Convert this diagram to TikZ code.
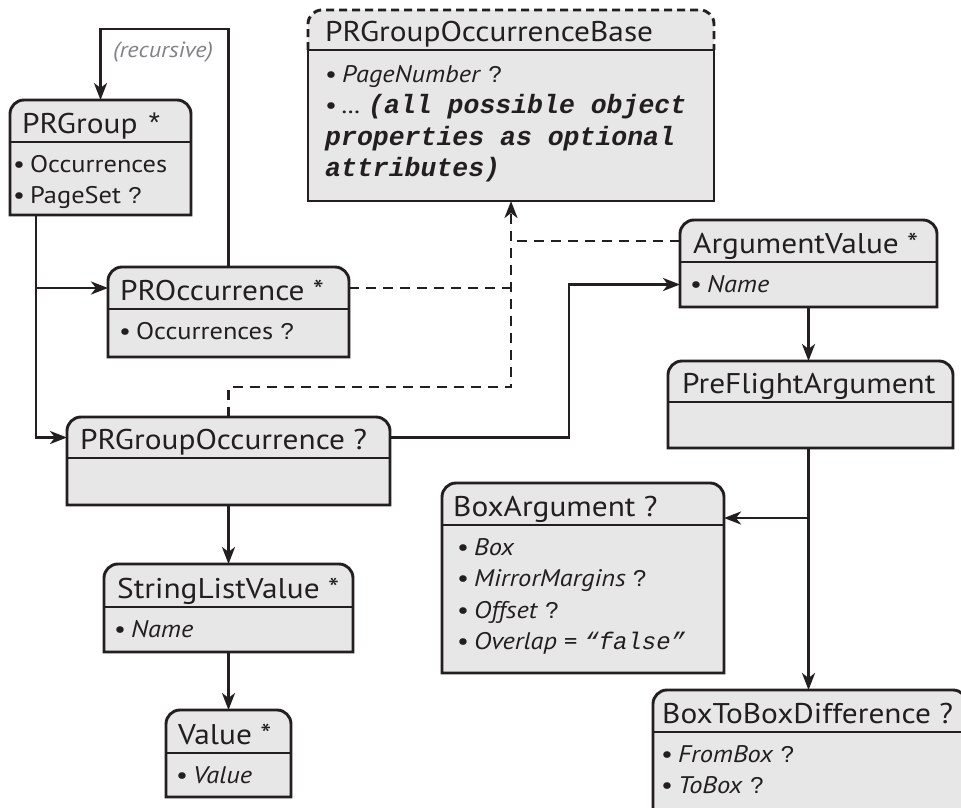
\documentclass[tikz,border=0pt]{standalone}
\usepackage{fontspec}
\setmainfont{PT Sans}[FakeStretch=1.1]
\newfontfamily\monofont{Liberation Mono}
\usetikzlibrary{arrows.meta,fit,calc}
\definecolor{boxgray}{HTML}{E6E7E6}
\definecolor{linecol}{HTML}{231F20}
\definecolor{recgray}{HTML}{808285}
\tikzset{
  boxline/.style={line width=2.9pt, draw=linecol, fill=boxgray},
  conn/.style={line width=2.7pt, draw=linecol},
  arr/.style={conn, -{Stealth[length=17pt,width=13pt,inset=5pt]}},
  dconn/.style={conn, dash pattern=on 10pt off 7pt},
  darr/.style={dconn, -{Stealth[length=17pt,width=13pt,inset=5pt]}},
  hdr/.style={inner sep=0pt, font=\fontsize{28.5}{32}\selectfont, text=linecol},
  bodytxt/.style={inner sep=0pt, font=\fontsize{24}{31.5}\selectfont, text=linecol},
  region/.style={inner sep=0pt, outer sep=0pt, draw=none, fill=none},
}
\newcommand\bl{\textbullet\hspace{5pt}}
\newcommand\qm{{\monofont ?}}
\newcommand\li[1]{\hbox{#1}}
\newcommand\mbi[1]{{\monofont\bfseries\itshape\fontsize{26.5}{31.5}\selectfont #1}}
% #1 name, #2 x1, #3 y1, #4 x2, #5 yh, #6 y2, #7 header x-offset, #8 header, #9 body indent
\newcommand\umlbox[9]{%
  \draw[boxline] (#2,#5) -- (#2,#6) -- (#4,#6) -- (#4,#5) [rounded corners=14pt] -- (#4,#3) -- (#2,#3) -- cycle;
  \draw[boxline] (#2,#5) -- (#4,#5);
  \node[region, fit={(#2,#3)(#4,#6)}] (#1) {};
  \node[region, fit={(#2,#3)(#4,#5)}] (#1h) {};
  \node[region, fit={(#2,#5)(#4,#6)}] (#1b) {};
  \node[hdr, anchor=base west] (#1t) at ({#2+#7},{#5-9}) {#8};
  \def\bodyx{{#2+#9}}\def\bodyy{{#5+30}}%
}
\newcommand\umlbody[2]{\node[bodytxt, anchor=base west] (#1) at (\bodyx,\bodyy) {\vtop{#2}};}
\begin{document}
\begin{tikzpicture}[x=1pt,y=-1pt]
\clip (0,0) rectangle (961,807);
\fill[white] (0,0) rectangle (961,807);

% boxes
\umlbox{prgroup}{10}{100}{191}{142}{215}{12}{PRGroup {\monofont *}}{3}
\umlbody{prgroupx}{\li{\bl Occurrences}\li{\bl PageSet \qm}}

\umlbox{proc}{108}{267}{349}{309}{357}{12}{PROccurrence *}{11}
\umlbody{procx}{\li{\bl Occurrences \qm}}

% base box with dashed header
\fill[boxgray] (308,201) -- (308,50) [rounded corners=14pt] -- (308,10) -- (714,10) [sharp corners] -- (714,201) -- cycle;
\draw[line width=2.9pt, draw=linecol] (308,50) -- (308,201) -- (714,201) -- (714,50) -- cycle;
\draw[line width=2.9pt, draw=linecol, dash pattern=on 8pt off 5pt] (308,50) [rounded corners=14pt] -- (308,10) -- (714,10) -- (714,50);
\node[region, fit={(308,10)(714,201)}] (base) {};
\node[hdr, anchor=base west] (baset) at (325,41) {PRGroupOccurrenceBase};
\node[bodytxt, anchor=base west] (basex) at (325,82) {\vtop{\li{\bl\textit{PageNumber} \qm}\li{\bl\textit{…} \mbi{(all possible object}}\li{\mbi{properties as optional}}\li{\mbi{attributes)}}}};

\umlbox{argv}{680}{220}{937}{262}{307}{13}{ArgumentValue *}{10}
\umlbody{argvx}{\li{\bl\textit{Name}}}

\umlbox{pgo}{67}{417}{390}{458}{505}{13}{PRGroupOccurrence ?}{10}

\umlbox{pfa}{668}{361}{953}{402}{448}{14}{PreFlightArgument}{10}

\umlbox{boxarg}{442}{483}{724}{525}{673}{11}{BoxArgument ?}{15}
\umlbody{boxargx}{\li{\bl\textit{Box}}\li{\bl\textit{MirrorMargins} \qm}\li{\bl\textit{Offset} \qm}\li{\bl\textit{Overlap} = {\monofont\itshape “false”}}}

\umlbox{slv}{104}{564}{353}{607}{652}{13}{StringListValue *}{10}
\umlbody{slvx}{\li{\bl\textit{Name}}}

\umlbox{val}{166}{710}{291}{753}{797}{12}{Value *}{10}
\umlbody{valx}{\li{\bl\textit{Value}}}

\umlbox{btb}{653}{690}{967}{732}{850}{9}{BoxToBoxDifference ?}{8}
\umlbody{btbx}{\li{\bl\textit{FromBox} \qm}\li{\bl\textit{ToBox} \qm}}

% helper coordinates
\coordinate (rtop) at (0,29);
\coordinate (trunk) at (36,0);
\coordinate (jx) at (569,0);
\coordinate (dx) at (511,0);
\coordinate (dlow) at (511,387);

% recursive
\draw[arr] (proc.north) -- (proc.north |- rtop) -| (prgroup.north);
\node[inner sep=0pt, anchor=base, text=recgray, font=\fontsize{22}{26}\selectfont\itshape] (reclabel) at (163,57) {(recursive)};

% trunk from PRGroup
\draw[arr] (prgroup.south -| trunk) |- (pgoh.west);
\draw[arr] (trunk |- proch.west) -- (proch.west);

% dashed to base
\draw[dconn] (proch.east) -- (proch.east -| dx);
\draw[dconn] (argvh.west) -- (argvh.west -| dx);
\draw[darr] (pgo.north) |- (dlow) -- (base.south -| dlow);

% PRGroupOccurrence to ArgumentValue
\draw[arr] (pgoh.east) -- (pgoh.east -| jx) |- (argvb.west);

% right column
\draw[arr] (argv.south) -- (argv.south |- pfa.north);
\draw[arr] (argv.south |- pfa.south) -- (argv.south |- btb.north);
\coordinate (br) at ($(boxargh.south east)+(0,-7)$);
\draw[arr] (br -| argv.south) -- (br);

% left column
\draw[arr] (pgo.south) -- (slv.north);
\draw[arr] (slv.south) -- (val.north);
\end{tikzpicture}
\end{document}
